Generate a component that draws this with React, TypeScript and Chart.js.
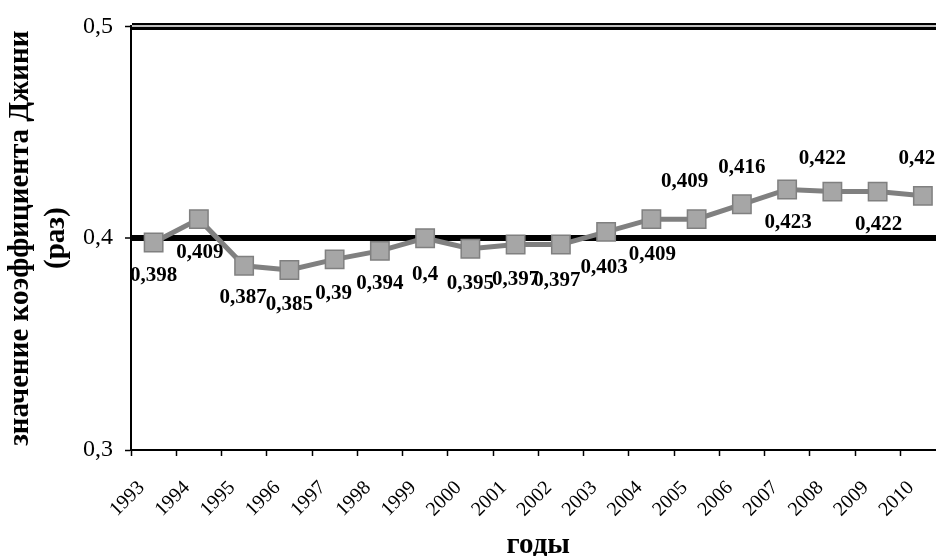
import React, { useEffect, useRef } from 'react';
import { Chart, registerables } from 'chart.js';

Chart.register(...registerables);

// ---- data ----
const years: string[] = [
  '1993', '1994', '1995', '1996', '1997', '1998', '1999', '2000', '2001',
  '2002', '2003', '2004', '2005', '2006', '2007', '2008', '2009', '2010',
];
const giniValues: number[] = [
  0.398, 0.409, 0.387, 0.385, 0.39, 0.394, 0.4, 0.395, 0.397,
  0.397, 0.403, 0.409, 0.409, 0.416, 0.423, 0.422, 0.422, 0.42,
];
const yTickValues: number[] = [0.3, 0.4, 0.5];
const yAxisTitle: string[] = ['значение коэффициента Джини', '(раз)'];
const xAxisTitle = 'годы';

// ---- style: data-label placement relative to each marker (dx, dy) ----
const labelOffsets: [number, number][] = [
  [0, 33], [1, 33], [-1, 32], [0, 35], [-1, 34], [0, 33], [0, 36], [0, 35], [0, 35],
  [-4, 36], [-2, 36], [1, 35], [-12, -38], [0, -37], [1, 33], [-10, -33], [1, 33], [-6, -37],
];

const FONT = "'Liberation Serif', 'Times New Roman', serif";
const fmt = (v: number) => String(Math.round(v * 1000) / 1000).replace('.', ',');

const overlayPlugin = {
  id: 'overlay',
  beforeDatasetsDraw(chart: any) {
    const { ctx, chartArea } = chart;
    const y = chart.scales.y.getPixelForValue(0.5);
    ctx.save();
    ctx.strokeStyle = '#ffffff';
    ctx.lineWidth = 1.5;
    ctx.beginPath();
    ctx.moveTo(chartArea.left + 1, y - 0.5);
    ctx.lineTo(chartArea.right, y - 0.5);
    ctx.stroke();
    ctx.restore();
  },
  afterDatasetsDraw(chart: any) {
    const { ctx } = chart;
    const meta = chart.getDatasetMeta(0);
    ctx.save();
    ctx.font = `bold 21px ${FONT}`;
    ctx.fillStyle = '#000000';
    ctx.textAlign = 'center';
    ctx.textBaseline = 'middle';
    meta.data.forEach((pt: any, i: number) => {
      const [dx, dy] = labelOffsets[i] || [0, 34];
      ctx.fillText(fmt(giniValues[i]), pt.x + dx, pt.y + dy);
    });
    ctx.restore();
  },
};

export default function App() {
  const canvasRef = useRef<HTMLCanvasElement | null>(null);

  useEffect(() => {
    const canvas = canvasRef.current;
    if (!canvas) return;
    const chart = new Chart(canvas, {
      type: 'line',
      data: {
        labels: years,
        datasets: [
          {
            data: giniValues,
            borderColor: '#808080',
            borderWidth: 5,
            tension: 0,
            pointStyle: 'rect',
            pointRadius: 13,
            pointHoverRadius: 13,
            pointBackgroundColor: '#a6a6a6',
            pointBorderColor: '#808080',
            pointBorderWidth: 1.5,
            clip: false as any,
          },
        ],
      },
      options: {
        animation: false,
        responsive: false,
        devicePixelRatio: 1,
        events: [],
        layout: { padding: { top: 25, right: 10, left: 0, bottom: 0 } },
        plugins: {
          legend: { display: false },
          tooltip: { enabled: false },
          title: { display: false },
        },
        scales: {
          x: {
            type: 'category',
            offset: true,
            grid: {
              offset: true,
              drawOnChartArea: false,
              drawTicks: true,
              tickLength: 6,
              tickColor: '#000000',
              tickWidth: 1.5,
              color: '#000000',
            },
            border: { display: true, color: '#000000', width: 2 },
            ticks: {
              color: '#000000',
              font: { family: FONT, size: 20, lineHeight: 1.1 },
              minRotation: 45,
              maxRotation: 45,
              padding: 21,
              labelOffset: -12,
              autoSkip: false,
            },
            title: {
              display: true,
              text: xAxisTitle,
              color: '#000000',
              font: { family: FONT, size: 29, weight: 'bold', lineHeight: 1 },
              padding: { top: 0, bottom: -4 },
            },
            afterFit(scale: any) {
              scale.height = 106;
              scale.paddingLeft = 0;
              scale.paddingRight = 0;
            },
          },
          y: {
            min: 0.3,
            max: 0.5,
            afterBuildTicks(scale: any) {
              scale.ticks = yTickValues.map((v) => ({ value: v }));
            },
            grid: {
              color: '#000000',
              lineWidth: (c: any) => {
                const v = c.tick ? Math.round(c.tick.value * 10) / 10 : 0;
                if (v === 0.4) return 6;
                if (v === 0.5) return 7;
                return 1;
              },
              drawTicks: true,
              tickLength: 6,
              tickColor: '#000000',
              tickWidth: 1.5,
            },
            border: { display: true, color: '#000000', width: 2 },
            ticks: {
              color: '#000000',
              font: { family: FONT, size: 24 },
              padding: 12,
              callback: (v: any) => Number(v).toFixed(1).replace('.', ','),
            },
            title: {
              display: true,
              text: yAxisTitle,
              color: '#000000',
              font: { family: FONT, size: 29, weight: 'bold', lineHeight: 1.22 },
              padding: { top: 3, bottom: 0 },
            },
            afterFit(scale: any) {
              scale.width = 131;
            },
          },
        },
      },
      plugins: [overlayPlugin],
    });
    return () => chart.destroy();
  }, []);

  return (
    <div
      style={{
        position: 'absolute',
        left: 0,
        top: 0,
        width: 936,
        height: 556,
        overflow: 'hidden',
        background: '#ffffff',
      }}
    >
      <canvas ref={canvasRef} width={960} height={556} style={{ display: 'block' }} />
    </div>
  );
}
